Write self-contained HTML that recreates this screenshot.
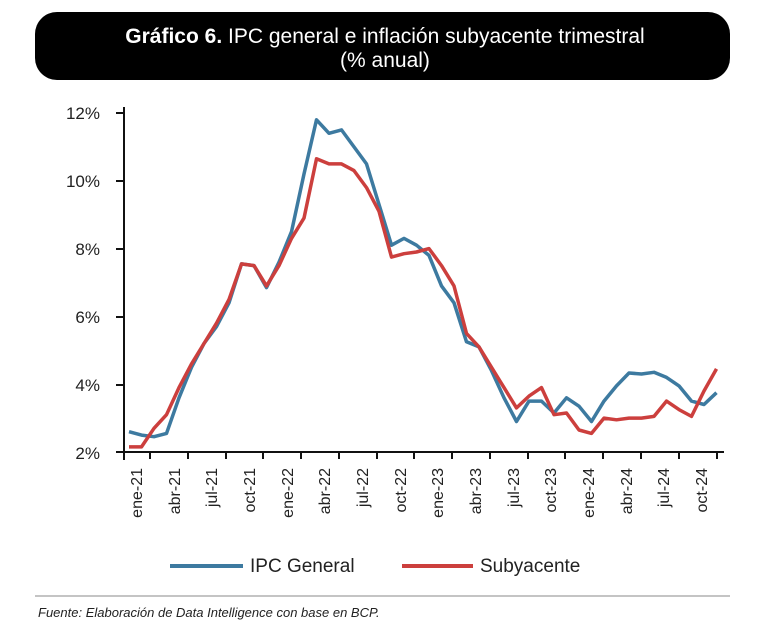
<!DOCTYPE html>
<html><head><meta charset="utf-8"><style>
body{margin:0;background:#fff;width:770px;height:633px;overflow:hidden;font-family:"Liberation Sans",sans-serif}
</style></head><body>
<svg width="770" height="633" xmlns="http://www.w3.org/2000/svg" font-family="Liberation Sans, sans-serif">
<rect x="35" y="12" width="695" height="68" rx="22" fill="#000"/>
<text x="385" y="43" text-anchor="middle" fill="#fff" font-size="21"><tspan font-weight="bold">Gráfico 6.</tspan> IPC general e inflación subyacente trimestral</text>
<text x="385" y="67" text-anchor="middle" fill="#fff" font-size="21">(% anual)</text>
<g font-size="17" fill="#222" text-anchor="end">
<text x="100" y="119">12%</text><text x="100" y="187">10%</text><text x="100" y="255">8%</text>
<text x="100" y="323">6%</text><text x="100" y="391">4%</text><text x="100" y="459">2%</text>
</g>
<g stroke="#111" stroke-width="2">
<line x1="124" y1="107" x2="124" y2="460"/>
<line x1="116" y1="452" x2="724" y2="452"/>
<line x1="116" y1="113" x2="124" y2="113"/><line x1="116" y1="181" x2="124" y2="181"/>
<line x1="116" y1="249" x2="124" y2="249"/><line x1="116" y1="317" x2="124" y2="317"/>
<line x1="116" y1="385" x2="124" y2="385"/>
<g id="t"></g>
</g>
<g stroke="#111" stroke-width="2">
<line x1="150" y1="452" x2="150" y2="459"/><line x1="188" y1="452" x2="188" y2="459"/><line x1="226" y1="452" x2="226" y2="459"/><line x1="263" y1="452" x2="263" y2="459"/><line x1="301" y1="452" x2="301" y2="459"/><line x1="339" y1="452" x2="339" y2="459"/><line x1="377" y1="452" x2="377" y2="459"/><line x1="414" y1="452" x2="414" y2="459"/><line x1="452" y1="452" x2="452" y2="459"/><line x1="490" y1="452" x2="490" y2="459"/><line x1="528" y1="452" x2="528" y2="459"/><line x1="565" y1="452" x2="565" y2="459"/><line x1="603" y1="452" x2="603" y2="459"/><line x1="641" y1="452" x2="641" y2="459"/><line x1="679" y1="452" x2="679" y2="459"/><line x1="717" y1="452" x2="717" y2="459"/>
</g>
<g font-size="16" fill="#222" text-anchor="end">
<text transform="translate(142,468) rotate(-90)">ene-21</text>
<text transform="translate(180,468) rotate(-90)">abr-21</text>
<text transform="translate(217,468) rotate(-90)">jul-21</text>
<text transform="translate(255,468) rotate(-90)">oct-21</text>
<text transform="translate(293,468) rotate(-90)">ene-22</text>
<text transform="translate(330,468) rotate(-90)">abr-22</text>
<text transform="translate(368,468) rotate(-90)">jul-22</text>
<text transform="translate(406,468) rotate(-90)">oct-22</text>
<text transform="translate(443,468) rotate(-90)">ene-23</text>
<text transform="translate(481,468) rotate(-90)">abr-23</text>
<text transform="translate(519,468) rotate(-90)">jul-23</text>
<text transform="translate(556,468) rotate(-90)">oct-23</text>
<text transform="translate(594,468) rotate(-90)">ene-24</text>
<text transform="translate(632,468) rotate(-90)">abr-24</text>
<text transform="translate(669,468) rotate(-90)">jul-24</text>
<text transform="translate(707,468) rotate(-90)">oct-24</text>
</g>
<polyline id="blue" fill="none" stroke="#3d7aa0" stroke-width="3.5" stroke-linejoin="round" points=""/>
<polyline id="red" fill="none" stroke="#cc3f3d" stroke-width="3.5" stroke-linejoin="round" points=""/>
<line x1="170" y1="566" x2="243" y2="566" stroke="#3d7aa0" stroke-width="4"/>
<text x="250" y="572" font-size="19" fill="#222">IPC General</text>
<line x1="402" y1="566" x2="473" y2="566" stroke="#cc3f3d" stroke-width="4"/>
<text x="480" y="572" font-size="19" fill="#222">Subyacente</text>
<line x1="35" y1="596" x2="730" y2="596" stroke="#888" stroke-width="1"/>
<text x="38" y="617" font-size="13" font-style="italic" fill="#222">Fuente: Elaboración de Data Intelligence con base en BCP.</text>
</svg>
<script>
var b=[2.6,2.5,2.45,2.55,3.6,4.5,5.2,5.7,6.4,7.55,7.5,6.85,7.6,8.5,10.2,11.8,11.4,11.5,11.0,10.5,9.3,8.1,8.3,8.1,7.8,6.9,6.4,5.25,5.1,4.4,3.6,2.9,3.5,3.5,3.15,3.6,3.35,2.9,3.5,3.95,4.33,4.3,4.35,4.2,3.95,3.5,3.4,3.75];
var r=[2.15,2.15,2.7,3.1,3.9,4.6,5.2,5.8,6.5,7.55,7.5,6.9,7.5,8.3,8.9,10.65,10.5,10.5,10.3,9.8,9.1,7.75,7.85,7.9,8.0,7.5,6.9,5.5,5.1,4.5,3.9,3.3,3.65,3.9,3.1,3.15,2.65,2.55,3.0,2.95,3.0,3.0,3.05,3.5,3.25,3.05,3.8,4.45];
function p(a){return a.map(function(v,i){return (129+i*12.5).toFixed(1)+","+(452-(v-2)*33.9).toFixed(1)}).join(" ")}
document.getElementById("blue").setAttribute("points",p(b));
document.getElementById("red").setAttribute("points",p(r));
</script>
</body></html>
